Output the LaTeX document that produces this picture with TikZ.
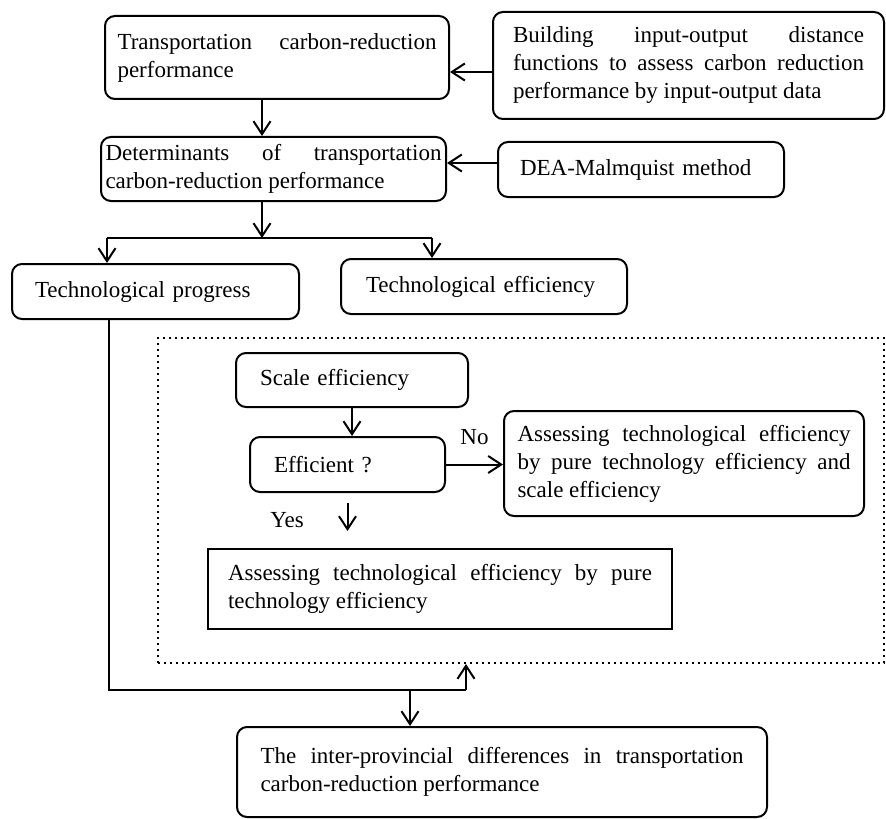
\documentclass[tikz,border=0pt]{standalone}
\usepackage{fontspec}
\setmainfont{Liberation Serif}
\usetikzlibrary{arrows.meta}

\newcommand{\boxfont}{\fontsize{11.5}{14}\selectfont\tolerance=10000\relax\hyphenpenalty=10000\relax\exhyphenpenalty=10000\relax}

\tikzset{
    every node/.style={font=\boxfont},
    box/.style={draw, line width=1pt, rounded corners=5pt, inner sep=2pt, align=justify},
    arr/.style={line width=1pt, -{Straight Barb[length=6.5pt,width=8.5pt]}},
    link/.style={line width=1pt}
}

\begin{document}
\begin{tikzpicture}[x=0.5pt, y=-0.5pt]
        \useasboundingbox (0,0) rectangle (886,818);
        \node (tebox) [draw, dotted, line width=1pt, minimum width=363pt, minimum height=162.5pt] at (521,500.5) {};
        \node (perf) [box, minimum width=172pt, minimum height=41.5pt, text width=159.5pt] at (277,57.5)
            {Transportation carbon-reduction\linebreak performance};
        \node (dist) [box, minimum width=195.5pt, minimum height=53.5pt, text width=175.5pt] at (688.5,65.5)
            {Building input-output distance\linebreak functions to assess carbon reduction\linebreak performance by input-output data};
        \node (determ) [box, minimum width=172.5pt, minimum height=32pt, text width=168pt] at (273.5,169)
            {Determinants of transportation\linebreak carbon-reduction performance};
        \node (dea) [box, align=left, minimum width=143pt, minimum height=27.5pt, text width=121pt] at (641,169.5)
            {DEA-Malmquist method};
        \node (progress) [box, align=left, minimum width=143.5pt, minimum height=27.5pt, text width=120.5pt] at (155.5,291.5)
            {Technological progress};
        \node (efficiency) [box, align=left, minimum width=143pt, minimum height=27.5pt, text width=118pt] at (484,286.5)
            {Technological efficiency};
        \node (scale) [box, align=left, minimum width=116pt, minimum height=27pt, text width=92pt] at (352,380)
            {Scale efficiency};
        \node (efficient) [box, align=left, minimum width=97.5pt, minimum height=27.5pt, text width=73.5pt] at (347.5,464.5)
            {Efficient ?};
        \node (bothtech) [box, minimum width=180pt, minimum height=52.5pt, text width=166.5pt] at (684,463.5)
            {Assessing technological efficiency\linebreak by pure technology efficiency and\linebreak scale efficiency};
        \node (puretech) [box, sharp corners, minimum width=232pt, minimum height=40pt, text width=212pt] at (440,589)
            {Assessing technological efficiency by pure\linebreak technology efficiency};
        \node (differ) [box, minimum width=265pt, minimum height=45pt, text width=241.5pt] at (502,772)
            {The inter-provincial differences in transportation\linebreak carbon-reduction performance};

        \coordinate (split) at (262,238);
        \coordinate (tpin) at (107,238);
        \coordinate (tein) at (432,238);
        \coordinate (tpdown) at (109,690);
        \coordinate (teup) at (466,690);
        \coordinate (diff) at (410,690);

        \draw[arr] ([yshift=-3.25pt]dist.west) -- ([yshift=-3.25pt]dist.west -| perf.east);
        \draw[arr] (split |- perf.south) -- (split |- determ.north);
        \draw[arr] ([yshift=3.25pt]dea.west) -- ([yshift=3.25pt]dea.west -| determ.east);
        \draw[arr] (split |- determ.south) -- (split);
        \draw[link] (tpin) -- (tein);
        \draw[arr] (tpin) -- (tpin |- progress.north);
        \draw[arr] (tein) -- (tein |- efficiency.north);
        \draw[arr] (scale.south) -- (scale.south |- efficient.north);
        \draw[arr] (efficient.east) -- (efficient.east -| bothtech.west) node[midway, above=6pt] {No};
        \draw[arr, shorten <=5pt, shorten >=8.5pt] (efficient.south) -- (efficient.south |- puretech.north)
            node[midway, left=18pt] {Yes};
        \draw[link] (progress.south -| tpdown) -- (tpdown) -- (teup);
        \draw[arr] (teup) -- (teup |- tebox.south);
        \draw[arr] (diff) -- (diff |- differ.north);
    \end{tikzpicture}
\end{document}
